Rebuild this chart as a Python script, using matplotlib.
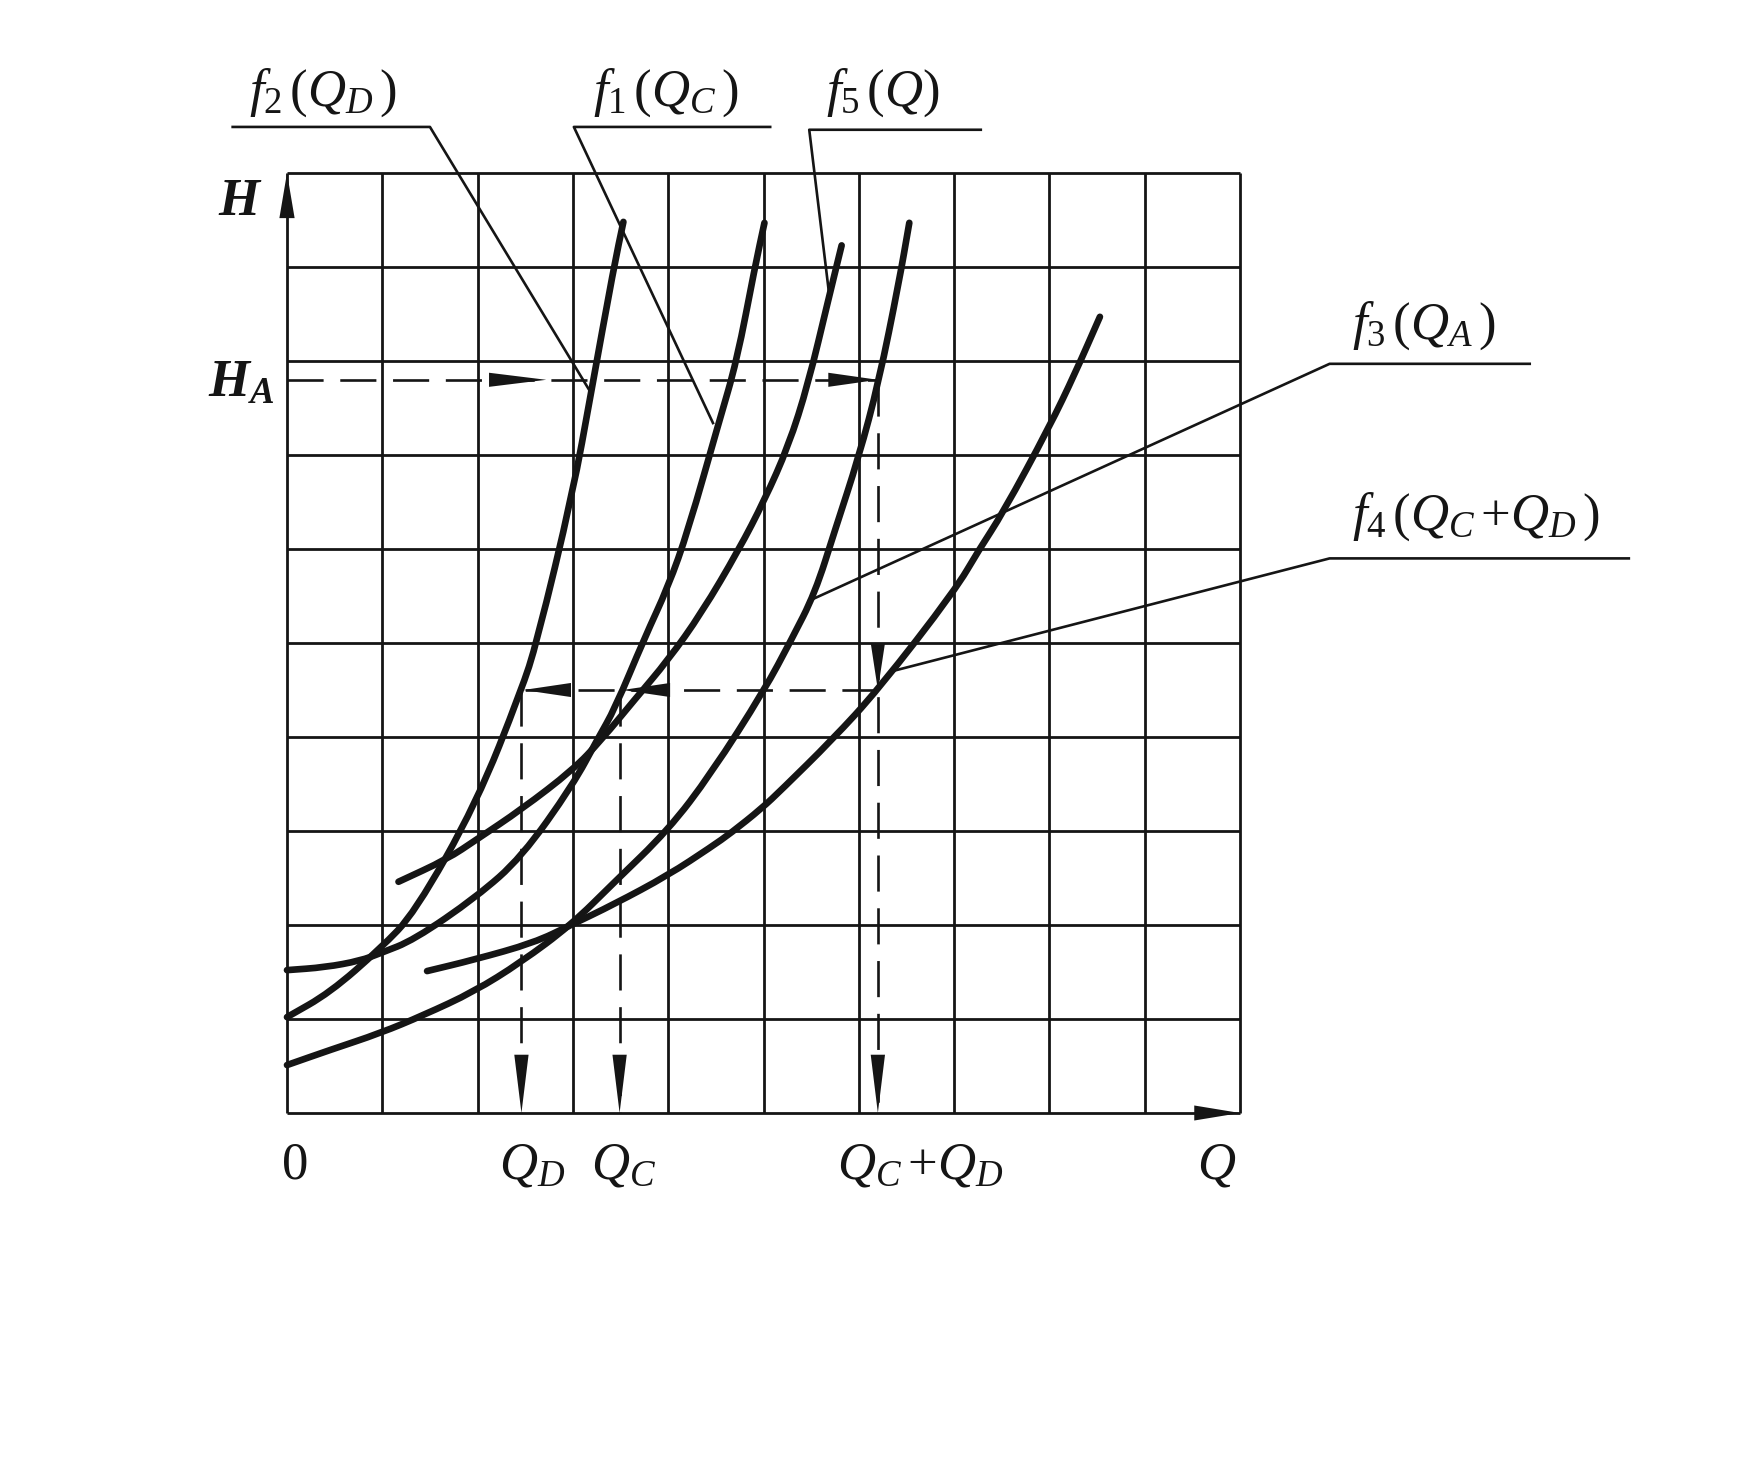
import numpy as np
import matplotlib
matplotlib.use("Agg")
import matplotlib.pyplot as plt
from matplotlib.path import Path
from matplotlib.patches import PathPatch

# ---------------- data (grid units: Q horizontally, H vertically) ----------------
f2_q = [0, 0.45, 0.98, 1.34, 1.99, 2.46, 2.62, 3.0, 3.19, 3.43, 3.53]
f2_h = [1.02, 1.28, 1.75, 2.13, 3.30, 4.50, 5.0, 6.6, 7.66, 9.0, 9.48]

f1_q = [0, 0.4, 0.77, 0.98, 1.33, 1.99, 2.46, 3.0, 3.26, 3.44, 3.75, 4.0, 4.21, 4.53, 4.72, 4.91, 5.01]
f1_h = [1.52, 1.55, 1.62, 1.70, 1.84, 2.30, 2.72, 3.49, 3.98, 4.30, 5.05, 5.6, 6.20, 7.34, 8.0, 9.0, 9.47]

f5_q = [1.17, 1.68, 1.99, 2.46, 3.0, 3.30, 3.65, 4.0, 4.35, 4.74, 5.01, 5.26, 5.47, 5.68, 5.82]
f5_h = [2.46, 2.70, 2.91, 3.23, 3.65, 3.97, 4.40, 4.82, 5.32, 5.99, 6.52, 7.09, 7.76, 8.65, 9.23]

f3_q = [0, 0.45, 0.98, 1.43, 1.96, 2.45, 2.98, 3.43, 4.0, 4.45, 5.01, 5.29, 5.54, 5.75, 6.0, 6.21, 6.42, 6.53]
f3_h = [0.51, 0.67, 0.85, 1.04, 1.29, 1.60, 2.0, 2.45, 3.01, 3.61, 4.50, 5.03, 5.53, 6.20, 6.98, 7.78, 8.83, 9.47]

f4_q = [1.47, 1.96, 2.59, 2.98, 3.43, 4.0, 4.45, 4.66, 4.98, 5.19, 5.72, 6.2, 7.01, 7.26, 7.51, 8.0, 8.27, 8.53]
f4_h = [1.51, 1.63, 1.81, 2.0, 2.22, 2.53, 2.83, 2.98, 3.24, 3.44, 3.97, 4.5, 5.56, 5.99, 6.38, 7.30, 7.87, 8.47]

# construction values
H_A = 7.8        # head H_A
H_m = 4.5        # head at the junction found on f4
Q_D = 2.46
Q_C = 3.49
Q_CD = 6.2
HA_arrow_q = 2.72

# labels: text, anchor (q, h), leader [(q,h) ...]
curve_labels = [
    (r"$f_{2}\,(Q_{D}\,)$", (-0.40, 10.72), [(-0.57, 10.49), (1.50, 10.49), (3.19, 7.66)]),
    (r"$f_{1}\,(Q_{C}\,)$", (3.21, 10.72), [(5.07, 10.49), (3.01, 10.49), (4.47, 7.34)]),
    (r"$f_{5}\,(Q)$", (5.66, 10.72), [(7.28, 10.46), (5.48, 10.46), (5.69, 8.70)]),
    (r"$f_{3}\,(Q_{A}\,)$", (11.18, 8.24), [(13.04, 7.97), (10.94, 7.97), (5.48, 5.45)]),
    (r"$f_{4}\,(Q_{C}\,{+}Q_{D}\,)$", (11.18, 6.20), [(14.08, 5.90), (10.94, 5.90), (6.35, 4.70)]),
]
x_labels = [("0", 0.09, "center"), (r"$Q_{D}$", 2.22, "left"), (r"$Q_{C}$", 3.19, "left"),
            (r"$Q_{C}\,{+}Q_{D}$", 5.77, "left"), (r"$Q$", 9.55, "left")]

# ---------------- style ----------------
plt.rcParams.update({
    "mathtext.fontset": "custom",
    "mathtext.rm": "Liberation Serif",
    "mathtext.it": "Liberation Serif:italic",
    "mathtext.bf": "Liberation Serif:bold:italic",
    "font.family": ["Liberation Serif", "DejaVu Serif"],
    "lines.scale_dashes": False,
})
ink = "#151515"
W, H = 1738, 1459
fig = plt.figure(figsize=(W / 100, H / 100), dpi=100)
x0, x1, ytop, ybot = 287, 1240, 173, 1113
ax = fig.add_axes([x0 / W, (H - ybot) / H, (x1 - x0) / W, (ybot - ytop) / H])
ax.set_xlim(0, 10)
ax.set_ylim(0, 10)
ax.axis("off")

# grid
grid_lw = 2.0
ax.vlines(np.arange(0, 11), 0, 10, color=ink, lw=grid_lw, zorder=1, clip_on=False)
ax.hlines(np.arange(0, 11), 0, 10, color=ink, lw=grid_lw, zorder=1, clip_on=False)


def smooth_path(q, h):
    """Quadratic B-spline path that uses the read points as control points."""
    P = np.column_stack([q, h]).astype(float)
    verts = [P[0], (P[0] + P[1]) / 2]
    codes = [Path.MOVETO, Path.LINETO]
    for i in range(1, len(P) - 1):
        verts += [P[i], (P[i] + P[i + 1]) / 2]
        codes += [Path.CURVE3, Path.CURVE3]
    verts.append(P[-1])
    codes.append(Path.LINETO)
    return Path(np.array(verts), codes)


# curves
curve_lw = 4.8
for q, h in [(f2_q, f2_h), (f1_q, f1_h), (f5_q, f5_h), (f3_q, f3_h), (f4_q, f4_h)]:
    patch = PathPatch(smooth_path(q, h), fill=False, edgecolor=ink, lw=curve_lw,
                      capstyle="round", joinstyle="round", zorder=3, clip_on=False)
    ax.add_patch(patch)


def arrowhead(tip, d, L=0.55, Wd=0.075):
    d = np.asarray(d, float)
    d = d / np.hypot(*d)
    p = np.array([-d[1], d[0]])
    tip = np.asarray(tip, float)
    base = tip - L * d
    poly = np.array([tip, base + Wd * p, base - Wd * p])
    ax.fill(poly[:, 0], poly[:, 1], color=ink, lw=0, zorder=5, clip_on=False)


# axis arrows
arrowhead((0, 10), (0, 1), L=0.48, Wd=0.08)
arrowhead((10, 0), (1, 0), L=0.48, Wd=0.08)

# dashed construction lines
dash = (0, (26, 12))
dlw = 1.9
ax.plot([0, Q_CD], [H_A, H_A], color=ink, lw=dlw, ls=dash, zorder=4, clip_on=False)
ax.plot([Q_CD, Q_CD], [H_A, 0], color=ink, lw=dlw, ls=dash, zorder=4, clip_on=False)
ax.plot([Q_CD, Q_D], [H_m, H_m], color=ink, lw=dlw, ls=dash, zorder=4, clip_on=False)
ax.plot([Q_D, Q_D], [H_m, 0], color=ink, lw=dlw, ls=dash, zorder=4, clip_on=False)
ax.plot([Q_C, Q_C], [H_m, 0], color=ink, lw=dlw, ls=dash, zorder=4, clip_on=False)

arrowhead((HA_arrow_q, H_A), (1, 0), L=0.6)
arrowhead((Q_CD, H_A), (1, 0), L=0.52)
arrowhead((Q_CD, H_m), (0, -1), L=0.5)
arrowhead((Q_CD, 0), (0, -1), L=0.62)
arrowhead((Q_C + 0.03, H_m), (-1, 0), L=0.5)
arrowhead((Q_D + 0.02, H_m), (-1, 0), L=0.5)
arrowhead((Q_D, 0), (0, -1), L=0.62)
arrowhead((Q_C, 0), (0, -1), L=0.62)

# labels with leaders
fs = 38
for txt, (tq, th), leader in curve_labels:
    ax.text(tq, th, txt, fontsize=fs, ha="left", va="baseline", color=ink, clip_on=False)
    lq, lh = zip(*leader)
    ax.plot(lq, lh, color=ink, lw=1.9, zorder=2, clip_on=False)

# axis names
ax.text(-0.49, 9.69, r"$\mathbf{H}$", fontsize=fs, ha="center", va="center", color=ink)
ax.text(-0.13, 7.62, r"$\mathbf{H}_{\mathbf{A}}$", fontsize=fs, ha="right", va="baseline", color=ink)
for txt, q, ha in x_labels:
    ax.text(q, -0.70, txt, fontsize=fs, ha=ha, va="baseline", color=ink)

fig.savefig("out.png", dpi=100, facecolor="white")
